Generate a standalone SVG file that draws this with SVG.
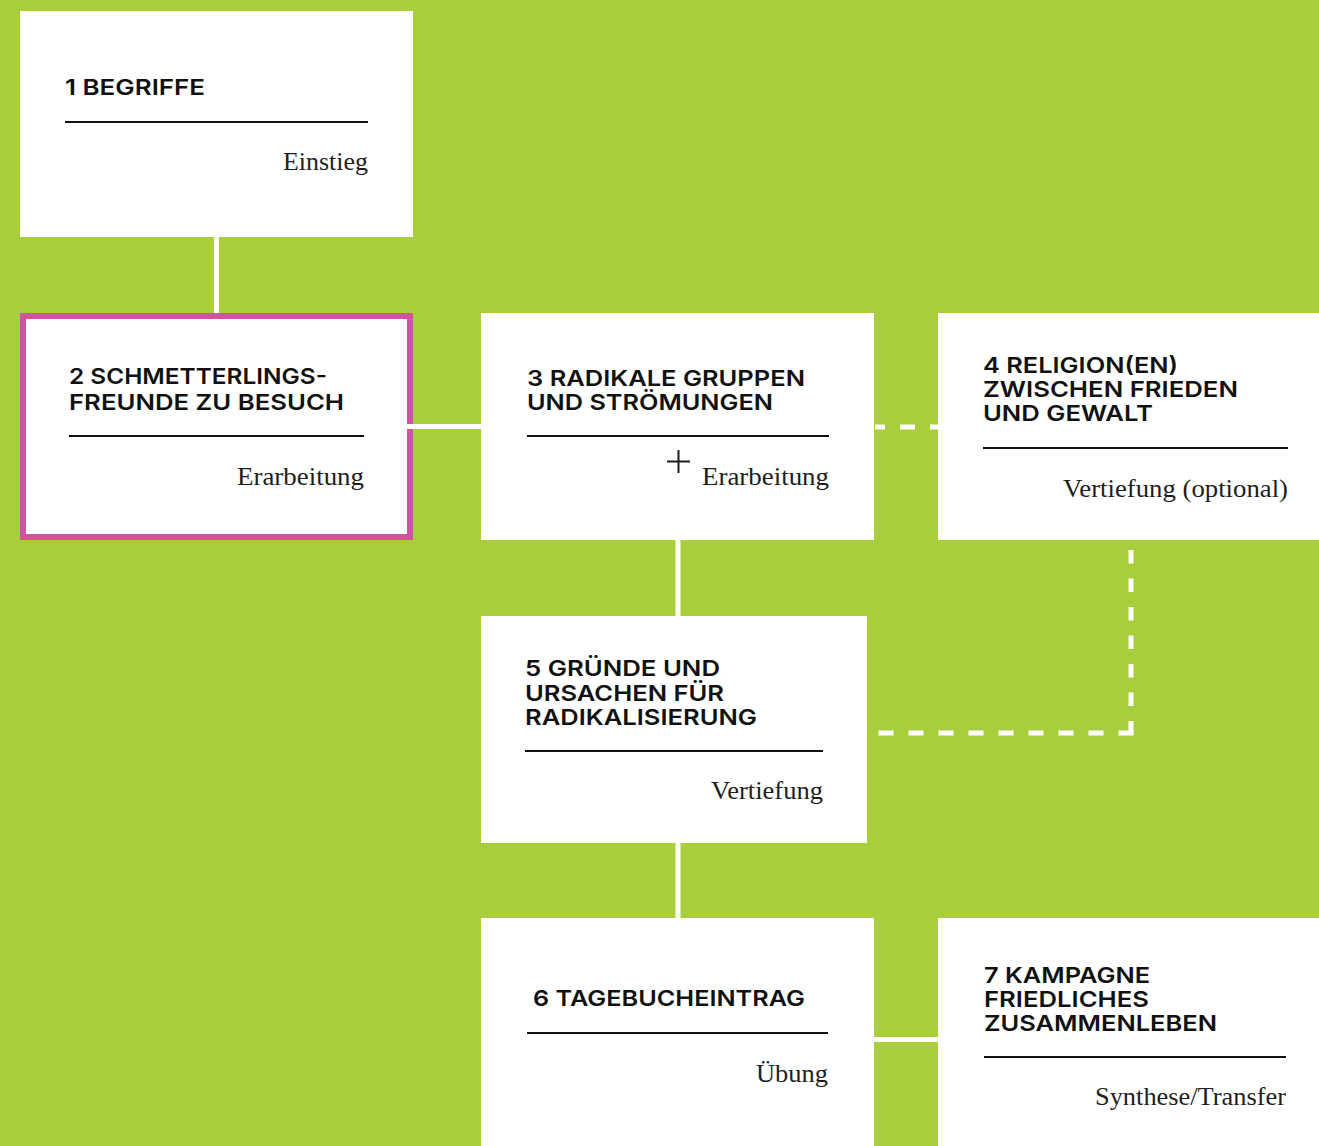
<svg xmlns="http://www.w3.org/2000/svg" width="1319" height="1146" viewBox="0 0 1319 1146">
  <style>
    .box { fill: #ffffff; }
    .hl { fill: #ffffff; stroke: #cf569d; stroke-width: 6; }
    .title { font-family: Inter, "Open Sans", "Liberation Sans", sans-serif; font-weight: 600; font-size: 22px; fill: #111111; }
    .sub { font-family: "Liberation Serif", "DejaVu Serif", serif; font-size: 25px; fill: #1e1e1e; text-anchor: end; }
    .rule { stroke: #111111; stroke-width: 2; }
    .link { stroke: #ffffff; stroke-width: 5; fill: none; }
    .opt { stroke: #ffffff; stroke-width: 5; fill: none; }
  </style>

  <!-- background -->
  <rect x="0" y="0" width="1319" height="1146" fill="#a8cf3b"/>

  <!-- nodes -->
  <g id="node1">
    <rect class="box" x="20" y="11" width="393" height="226"/>
    <text class="title" x="65" y="95" textLength="140" lengthAdjust="spacingAndGlyphs">1 BEGRIFFE</text>
    <line class="rule" x1="65" y1="122" x2="368" y2="122"/>
    <text class="sub" x="368" y="170" textLength="85" lengthAdjust="spacingAndGlyphs">Einstieg</text>
  </g>

  <g id="node2">
    <rect class="hl" x="23" y="316" width="387" height="221"/>
    <text class="title" x="69" y="384" textLength="258" lengthAdjust="spacingAndGlyphs">2 SCHMETTERLINGS-</text>
    <text class="title" x="69" y="410" textLength="275" lengthAdjust="spacingAndGlyphs">FREUNDE ZU BESUCH</text>
    <line class="rule" x1="69" y1="436" x2="364" y2="436"/>
    <text class="sub" x="364" y="485" textLength="127" lengthAdjust="spacingAndGlyphs">Erarbeitung</text>
  </g>

  <g id="node3">
    <rect class="box" x="481" y="313" width="393" height="227"/>
    <text class="title" x="527" y="386" textLength="278" lengthAdjust="spacingAndGlyphs">3 RADIKALE GRUPPEN</text>
    <text class="title" x="527" y="410" textLength="246" lengthAdjust="spacingAndGlyphs">UND STRÖMUNGEN</text>
    <line class="rule" x1="527" y1="436" x2="829" y2="436"/>
    <path d="M667 461.5 H690 M678.5 450 V473" stroke="#1e1e1e" stroke-width="2" fill="none"/>
    <text class="sub" x="829" y="485" textLength="127" lengthAdjust="spacingAndGlyphs">Erarbeitung</text>
  </g>

  <g id="node4">
    <rect class="box" x="938" y="313" width="381" height="227"/>
    <text class="title" x="983" y="373" textLength="195" lengthAdjust="spacingAndGlyphs">4 RELIGION(EN)</text>
    <text class="title" x="983" y="397" textLength="255" lengthAdjust="spacingAndGlyphs">ZWISCHEN FRIEDEN</text>
    <text class="title" x="983" y="421" textLength="170" lengthAdjust="spacingAndGlyphs">UND GEWALT</text>
    <line class="rule" x1="983" y1="448" x2="1288" y2="448"/>
    <text class="sub" x="1288" y="497" textLength="225" lengthAdjust="spacingAndGlyphs">Vertiefung (optional)</text>
  </g>

  <g id="node5">
    <rect class="box" x="481" y="616" width="386" height="227"/>
    <text class="title" x="525" y="676" textLength="195" lengthAdjust="spacingAndGlyphs">5 GRÜNDE UND</text>
    <text class="title" x="525" y="701" textLength="199" lengthAdjust="spacingAndGlyphs">URSACHEN FÜR</text>
    <text class="title" x="525" y="725" textLength="232" lengthAdjust="spacingAndGlyphs">RADIKALISIERUNG</text>
    <line class="rule" x1="525" y1="751" x2="823" y2="751"/>
    <text class="sub" x="823" y="799" textLength="112" lengthAdjust="spacingAndGlyphs">Vertiefung</text>
  </g>

  <g id="node6">
    <rect class="box" x="481" y="918" width="393" height="228"/>
    <text class="title" x="533" y="1006" textLength="272" lengthAdjust="spacingAndGlyphs">6 TAGEBUCHEINTRAG</text>
    <line class="rule" x1="527" y1="1033" x2="828" y2="1033"/>
    <text class="sub" x="828" y="1082" textLength="72" lengthAdjust="spacingAndGlyphs">Übung</text>
  </g>

  <g id="node7">
    <rect class="box" x="938" y="918" width="381" height="228"/>
    <text class="title" x="984" y="983" textLength="166" lengthAdjust="spacingAndGlyphs">7 KAMPAGNE</text>
    <text class="title" x="984" y="1007" textLength="165" lengthAdjust="spacingAndGlyphs">FRIEDLICHES</text>
    <text class="title" x="984" y="1031" textLength="233" lengthAdjust="spacingAndGlyphs">ZUSAMMENLEBEN</text>
    <line class="rule" x1="984" y1="1057" x2="1286" y2="1057"/>
    <text class="sub" x="1286" y="1105" textLength="191" lengthAdjust="spacingAndGlyphs">Synthese/Transfer</text>
  </g>

  <!-- connectors -->
  <g id="connectors">
    <line class="link" x1="216.5" y1="237" x2="216.5" y2="313"/>
    <line class="link" x1="407" y1="426.5" x2="481" y2="426.5"/>
    <line class="link" x1="678" y1="540" x2="678" y2="616"/>
    <line class="link" x1="678" y1="843" x2="678" y2="918"/>
    <line class="link" x1="874" y1="1039.5" x2="938" y2="1039.5"/>
    <!-- optional branch -->
    <line class="opt" x1="875" y1="427" x2="938" y2="427" stroke-dasharray="15 15" stroke-dashoffset="5"/>
    <line class="opt" x1="1131" y1="550" x2="1131" y2="735" stroke-dasharray="13.5 15"/>
    <line class="opt" x1="1133.5" y1="733" x2="878" y2="733" stroke-dasharray="15 15"/>
  </g>
</svg>
